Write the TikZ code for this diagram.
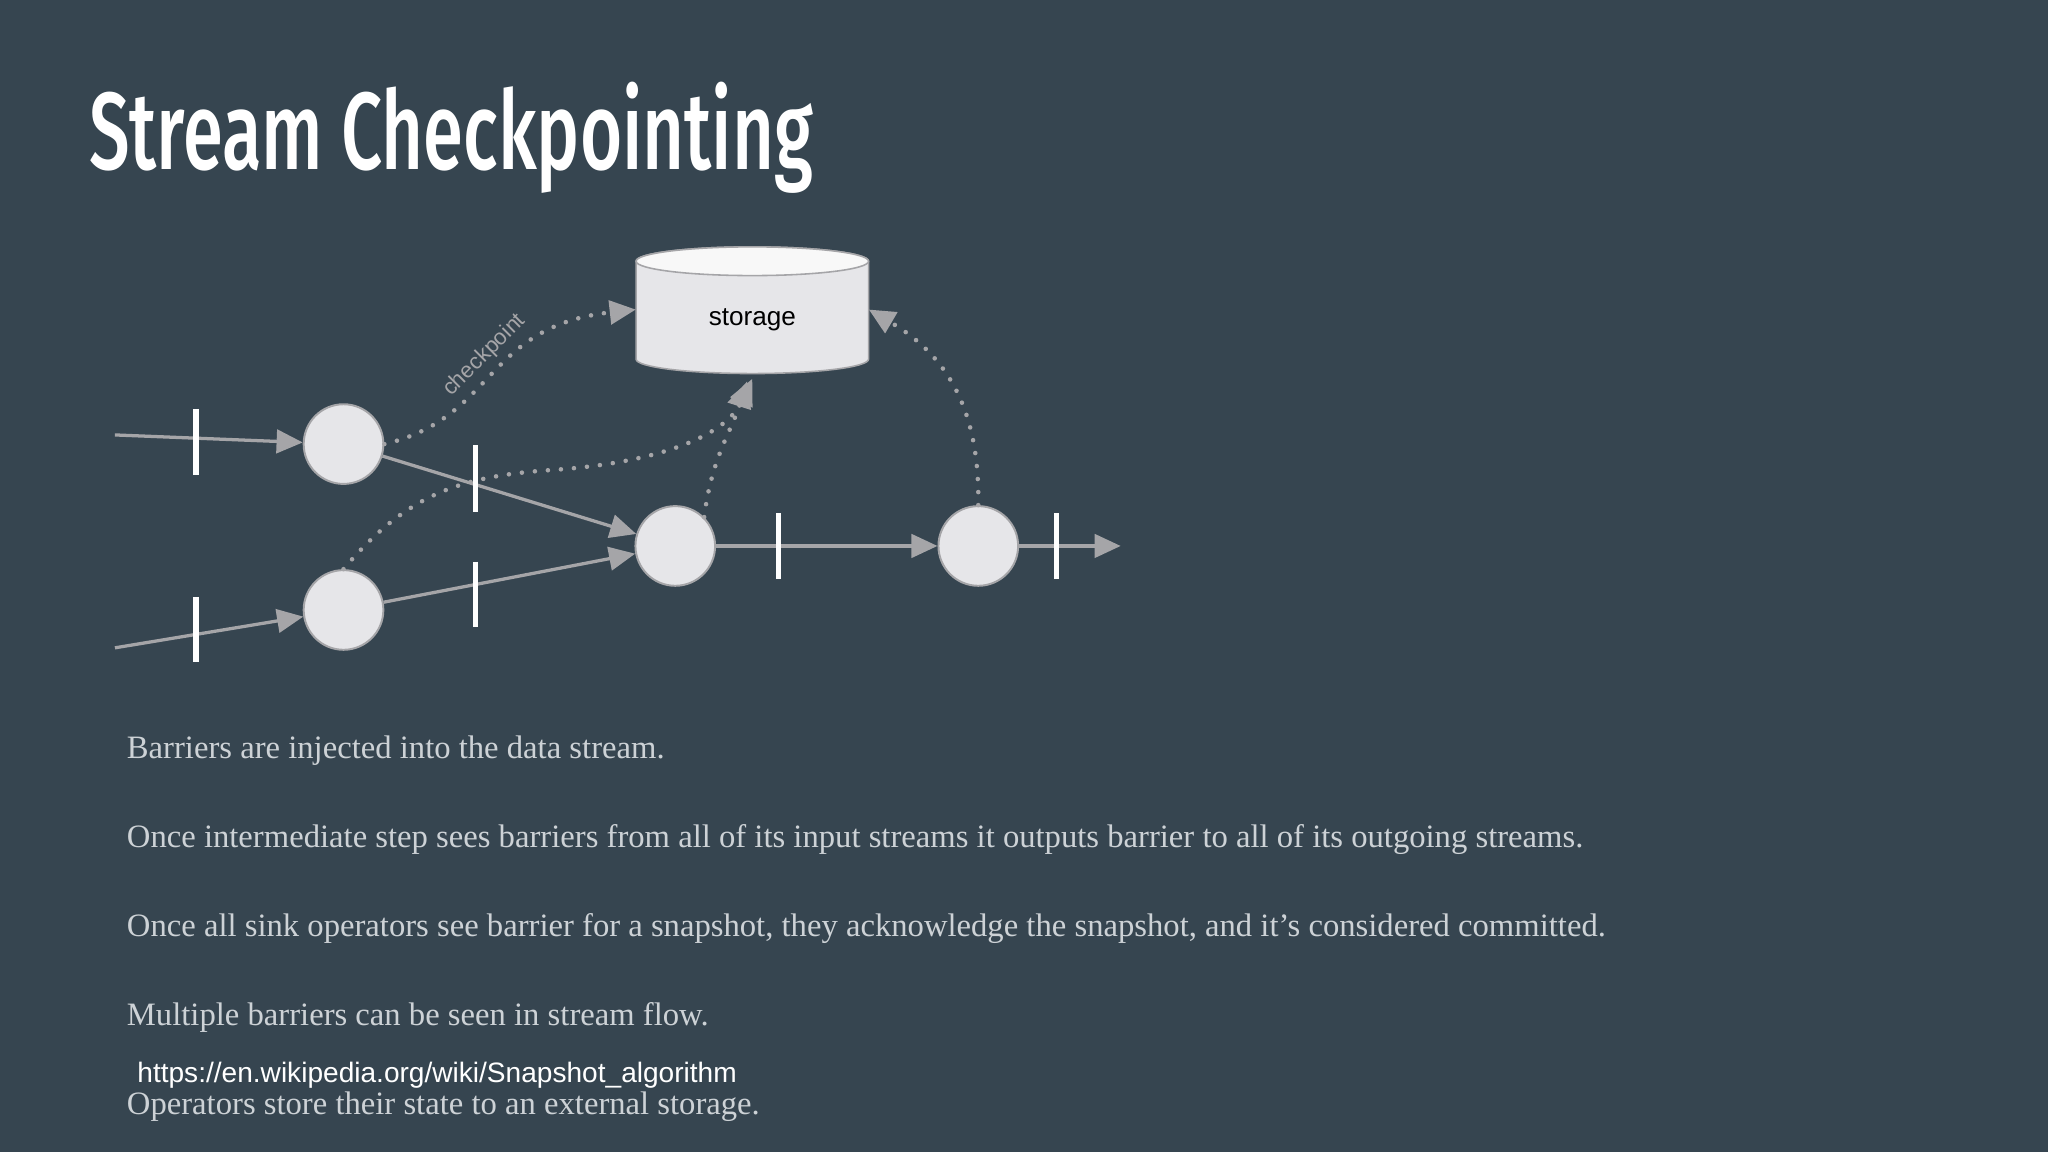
\documentclass[tikz,border=0pt]{standalone}
\usepackage{fontspec}
\setmainfont{Liberation Serif}
\newfontfamily\titlefont[FakeStretch=0.66]{Fira Sans Medium}
\newfontfamily\urlfont{Liberation Sans}
\usetikzlibrary{arrows.meta}
\definecolor{bg}{RGB}{54,69,80}
\definecolor{lnc}{RGB}{165,165,168}
\definecolor{nodefill}{RGB}{230,230,233}
\definecolor{bodytxt}{RGB}{205,210,214}
\tikzset{
 proc/.style={circle,draw=lnc,line width=1.5pt,fill=nodefill,minimum size=61pt,inner sep=0},
 flow/.style={draw=lnc,line width=2.5pt,-{Triangle[length=20pt,width=18pt]}},
 barrier/.style={draw=white,line width=4pt},
 ckpt/.style={draw=lnc,line width=3.5pt,line cap=round,dash pattern=on 0pt off 10pt,-{Triangle[length=20pt,width=18pt]}},
 body/.style={anchor=base west,text=bodytxt,font=\fontsize{25}{30}\selectfont,inner sep=0}
}
\begin{document}
\begin{tikzpicture}[x=1pt,y=-1pt]
\fill[bg] (0,0) rectangle (1568,882);
\useasboundingbox (0,0) rectangle (1568,882);
\node[anchor=base west,text=white,inner sep=0,font=\titlefont\fontsize{84}{90}\selectfont] (title) at (68,130) {Stream Checkpointing};
% storage
\node[minimum width=178pt,minimum height=98pt,inner sep=0] (storage) at (576,237) {};
\fill[nodefill,draw=lnc,line width=1.2pt] (487,200) -- (487,275) arc[start angle=180,end angle=360,x radius=89,y radius=-11] -- (665,200) arc[start angle=0,end angle=180,x radius=89,y radius=-11] -- cycle;
\draw[lnc,line width=1.2pt,fill=white!70!nodefill] (576,200) ellipse[x radius=89,y radius=11];
\node[font=\urlfont\fontsize{20}{24}\selectfont] at (576,245) {storage};
% nodes
\node[proc] (a) at (263,340) {};
\node[proc] (b) at (263,467) {};
\node[proc] (c) at (517,418) {};
\node[proc] (d) at (749,418) {};
\coordinate (ina) at (88,333);
\coordinate (inb) at (88,496);
\coordinate (out) at (858,418);
\draw[flow] (ina) -- (a);
\draw[flow] (inb) -- (b);
\draw[flow] (a) -- (c);
\draw[flow] (b) -- (c);
\draw[flow] (c) -- (d);
\draw[flow] (d) -- (out);
% barriers
\draw[barrier] (150,313) -- (150,364);
\draw[barrier] (150,457) -- (150,507);
\draw[barrier] (364,341) -- (364,392);
\draw[barrier] (364,430) -- (364,480);
\draw[barrier] (596,393) -- (596,443);
\draw[barrier] (809,393) -- (809,443);
% checkpoint arrows
\draw[ckpt] (a.east) .. controls (380,320) and (370,250) .. (storage.west);
\draw[ckpt] (b.north) .. controls (310,380) and (350,365) .. (420,360) .. controls (500,355) and (555,335) .. (576,290);
\draw[ckpt] (c.north east) .. controls (545,350) and (560,330) .. (572,292);
\draw[ckpt] (d.north) .. controls (750,320) and (730,275) .. (storage.east);
\node[rotate=45,text=lnc,font=\urlfont\fontsize{17}{18}\selectfont] (lbl) at (371,272) {checkpoint};
% text
\node[body] (t1) at (97,581) {Barriers are injected into the data stream.};
\node[body] (t2) at (97,649) {Once intermediate step sees barriers from all of its input streams it outputs barrier to all of its outgoing streams.};
\node[body] (t3) at (97,717) {Once all sink operators see barrier for a snapshot, they acknowledge the snapshot, and it’s considered committed.};
\node[body] (t4) at (97,785) {Multiple barriers can be seen in stream flow.};
\node[body] (t5) at (97,853) {Operators store their state to an external storage.};
\node[anchor=base west,inner sep=0,text=white,font=\urlfont\fontsize{21.5}{24}\selectfont] (url) at (105,829) {https://en.wikipedia.org/wiki/Snapshot\_algorithm};
\end{tikzpicture}
\end{document}
